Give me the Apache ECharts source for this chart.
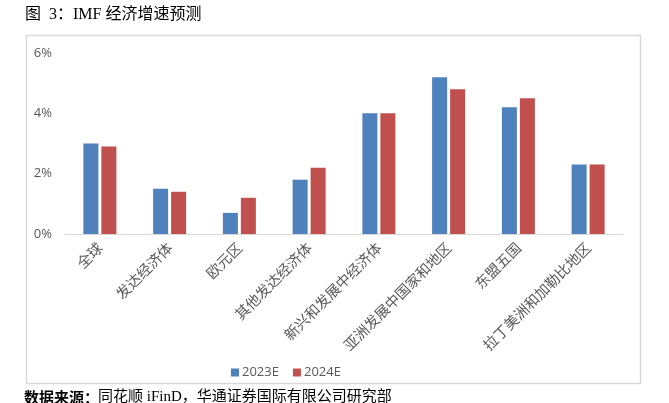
<!DOCTYPE html>
<html><head><meta charset="utf-8">
<script src="https://cdn.jsdelivr.net/npm/echarts@6/dist/echarts.min.js"></script>
<style>html,body{margin:0;padding:0;background:#fff}#c{width:669px;height:403px}</style>
</head><body><div id="c"></div>
<script>
const categories = ['全球','发达经济体','欧元区','其他发达经济体','新兴和发展中经济体','亚洲发展中国家和地区','东盟五国','拉丁美洲和加勒比地区'];
const seriesNames = ['2023E','2024E'];
const values2023 = [3.0,1.5,0.7,1.8,4.0,5.2,4.2,2.3];
const values2024 = [2.9,1.4,1.2,2.2,4.0,4.8,4.5,2.3];
const yTicks = {min:0,max:6,interval:2};
const titleText = '图  3：IMF 经济增速预测';
const sourceBold = '数据来源：';
const sourceText = '同花顺 iFinD，华通证券国际有限公司研究部';

const chart = echarts.init(document.getElementById('c'), null, {renderer:'canvas'});
chart.setOption({
  animation:false,
  backgroundColor:'#fff',
  graphic:[
    {type:'rect',shape:{x:26.5,y:35.5,width:614,height:348},style:{fill:'none',stroke:'#d9d9d9',lineWidth:1.5},z:-1},
    {type:'text',left:25,top:7,style:{text:titleText,fontSize:16,fill:'#000',fontFamily:"'Liberation Serif','Noto Sans CJK SC',serif"}},
    {type:'text',left:24,top:390,style:{text:sourceBold,fontSize:15,fontWeight:'bold',fill:'#000',fontFamily:"'Noto Sans CJK SC',sans-serif"}},
    {type:'text',left:98,top:390,style:{text:sourceText,fontSize:15,fill:'#000',fontFamily:"'Liberation Serif','Noto Sans CJK SC',serif"}}
  ],
  legend:{
    data:seriesNames,left:226,top:361,itemWidth:8,itemHeight:8,itemGap:14,icon:'rect',
    textStyle:{color:'#595959',fontSize:13,fontFamily:"'Open Sans',sans-serif",padding:[0,0,0,-2]}
  },
  grid:{left:65,right:46,top:53,bottom:169,containLabel:false},
  xAxis:{
    type:'category',data:categories,
    axisLine:{lineStyle:{color:'#d9d9d9',width:1}},
    axisTick:{show:false},
    axisLabel:{rotate:45,interval:0,margin:11,color:'#595959',fontSize:14.5,fontFamily:"'Noto Sans CJK SC',serif"}
  },
  yAxis:{
    type:'value',min:yTicks.min,max:yTicks.max,interval:yTicks.interval,
    axisLine:{show:false},axisTick:{show:false},splitLine:{show:false},
    axisLabel:{formatter:'{value}%',color:'#595959',fontSize:13,margin:13,fontFamily:"'Open Sans',sans-serif"}
  },
  series:[
    {name:seriesNames[0],type:'bar',data:values2023,barWidth:15,barGap:'20%',itemStyle:{color:'#4f81bd'}},
    {name:seriesNames[1],type:'bar',data:values2024,barWidth:15,barGap:'20%',itemStyle:{color:'#c0504d'}}
  ]
});
</script></body></html>
